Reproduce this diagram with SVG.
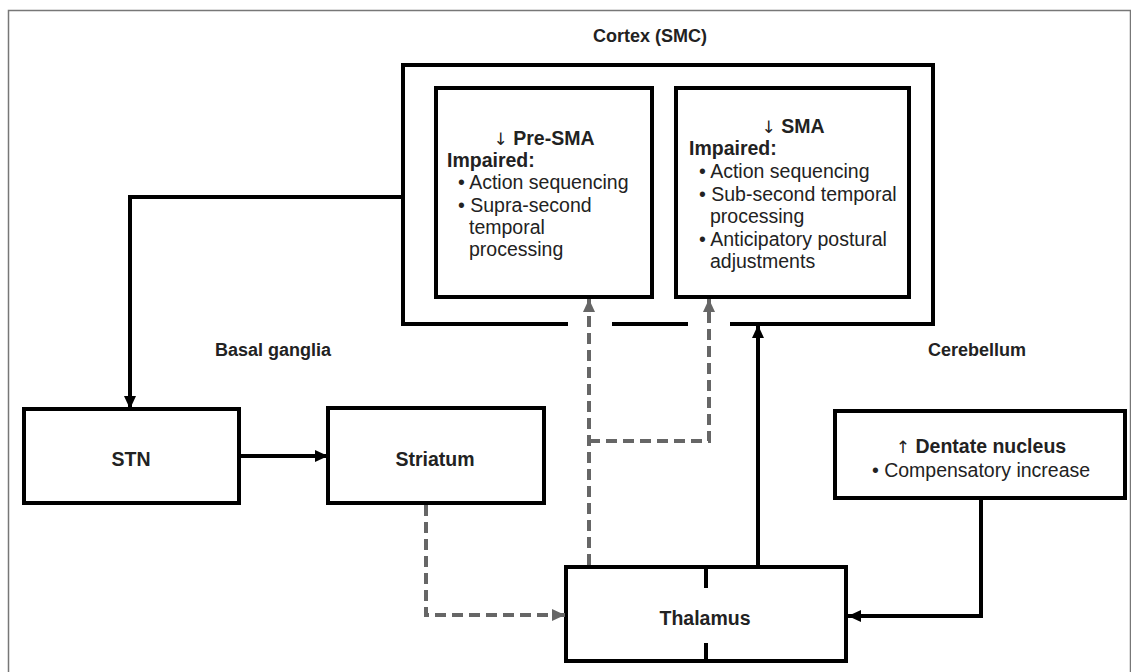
<svg xmlns="http://www.w3.org/2000/svg" width="1131" height="672" viewBox="0 0 1131 672">
<defs>
<style>
text{font-family:"Liberation Sans",Arial,sans-serif;fill:#222;}
.t{font-size:18px;font-weight:bold;}
.b{font-size:19.5px;font-weight:bold;}
.r{font-size:19.5px;}
.ar{font-family:"DejaVu Sans",sans-serif;font-weight:normal;font-size:17px;}
.box{fill:#fff;stroke:#000;stroke-width:4;}
.solid{fill:none;stroke:#000;stroke-width:4;}
.dash{fill:none;stroke:#666;stroke-width:4;stroke-dasharray:11 6;}
</style>
<marker id="ah" markerUnits="userSpaceOnUse" markerWidth="14" markerHeight="14" refX="13" refY="7" orient="auto"><path d="M0,1 L13,7 L0,13 z" fill="#000"/></marker>
<marker id="ahg" markerUnits="userSpaceOnUse" markerWidth="14" markerHeight="14" refX="13" refY="7" orient="auto"><path d="M0,1 L13,7 L0,13 z" fill="#666"/></marker>
</defs>
<rect width="1131" height="672" fill="#fff"/>
<path d="M8.5,672 V10.5 H1130.5 V672" fill="none" stroke="#777" stroke-width="1.5"/>

<text class="t" x="593" y="42">Cortex (SMC)</text>
<text class="t" x="215" y="356">Basal ganglia</text>
<text class="t" x="928" y="356">Cerebellum</text>

<g id="cortex">
<path class="solid" d="M568,324 H403 V65 H933 V324 H730 M612,324 H688"/>
</g>

<g id="presma">
<rect class="box" x="436" y="88" width="216" height="209"/>
<text x="544" y="145" text-anchor="middle" class="b"><tspan class="ar">↓</tspan> Pre-SMA</text>
<text class="b" x="447" y="167">Impaired:</text>
<text class="r" x="458" y="189">• Action sequencing</text>
<text class="r" x="458" y="212">• Supra-second</text>
<text class="r" x="469" y="234">temporal</text>
<text class="r" x="469" y="256">processing</text>
</g>

<g id="sma">
<rect class="box" x="676" y="88" width="233" height="209"/>
<text x="793" y="133" text-anchor="middle" class="b"><tspan class="ar">↓</tspan> SMA</text>
<text class="b" x="689" y="155">Impaired:</text>
<text class="r" x="699" y="178">• Action sequencing</text>
<text class="r" x="699" y="201">• Sub-second temporal</text>
<text class="r" x="710" y="223">processing</text>
<text class="r" x="699" y="246">• Anticipatory postural</text>
<text class="r" x="710" y="268">adjustments</text>
</g>

<g id="stn">
<rect class="box" x="24" y="409" width="215" height="94"/>
<text class="b" x="131" y="466" text-anchor="middle">STN</text>
</g>

<g id="striatum">
<rect class="box" x="328" y="408" width="216" height="95"/>
<text class="b" x="435" y="466" text-anchor="middle">Striatum</text>
</g>

<g id="thalamus">
<rect class="box" x="566" y="567" width="280" height="94"/>
<path class="solid" d="M706,567 V588 M706,643 V661"/>
<text class="b" x="705" y="625" text-anchor="middle">Thalamus</text>
</g>

<g id="dentate">
<rect class="box" x="835" y="411" width="290" height="87"/>
<text x="981" y="453" text-anchor="middle" class="b"><tspan class="ar">↑</tspan> Dentate nucleus</text>
<text class="r" x="981" y="477" text-anchor="middle">• Compensatory increase</text>
</g>

<g id="connectors">
<path class="solid" d="M403,197 H130 V409" marker-end="url(#ah)"/>
<path class="solid" d="M239,456 H328" marker-end="url(#ah)"/>
<path class="solid" d="M981,498 V616 H848" marker-end="url(#ah)"/>
<path class="solid" d="M758,567 V325" marker-end="url(#ah)"/>
<path class="dash" d="M426,505 V615 H565" marker-end="url(#ahg)"/>
<path class="dash" d="M589,565 V299" marker-end="url(#ahg)"/>
<path class="dash" d="M589,441 H709 V299" marker-end="url(#ahg)"/>
</g>
</svg>
